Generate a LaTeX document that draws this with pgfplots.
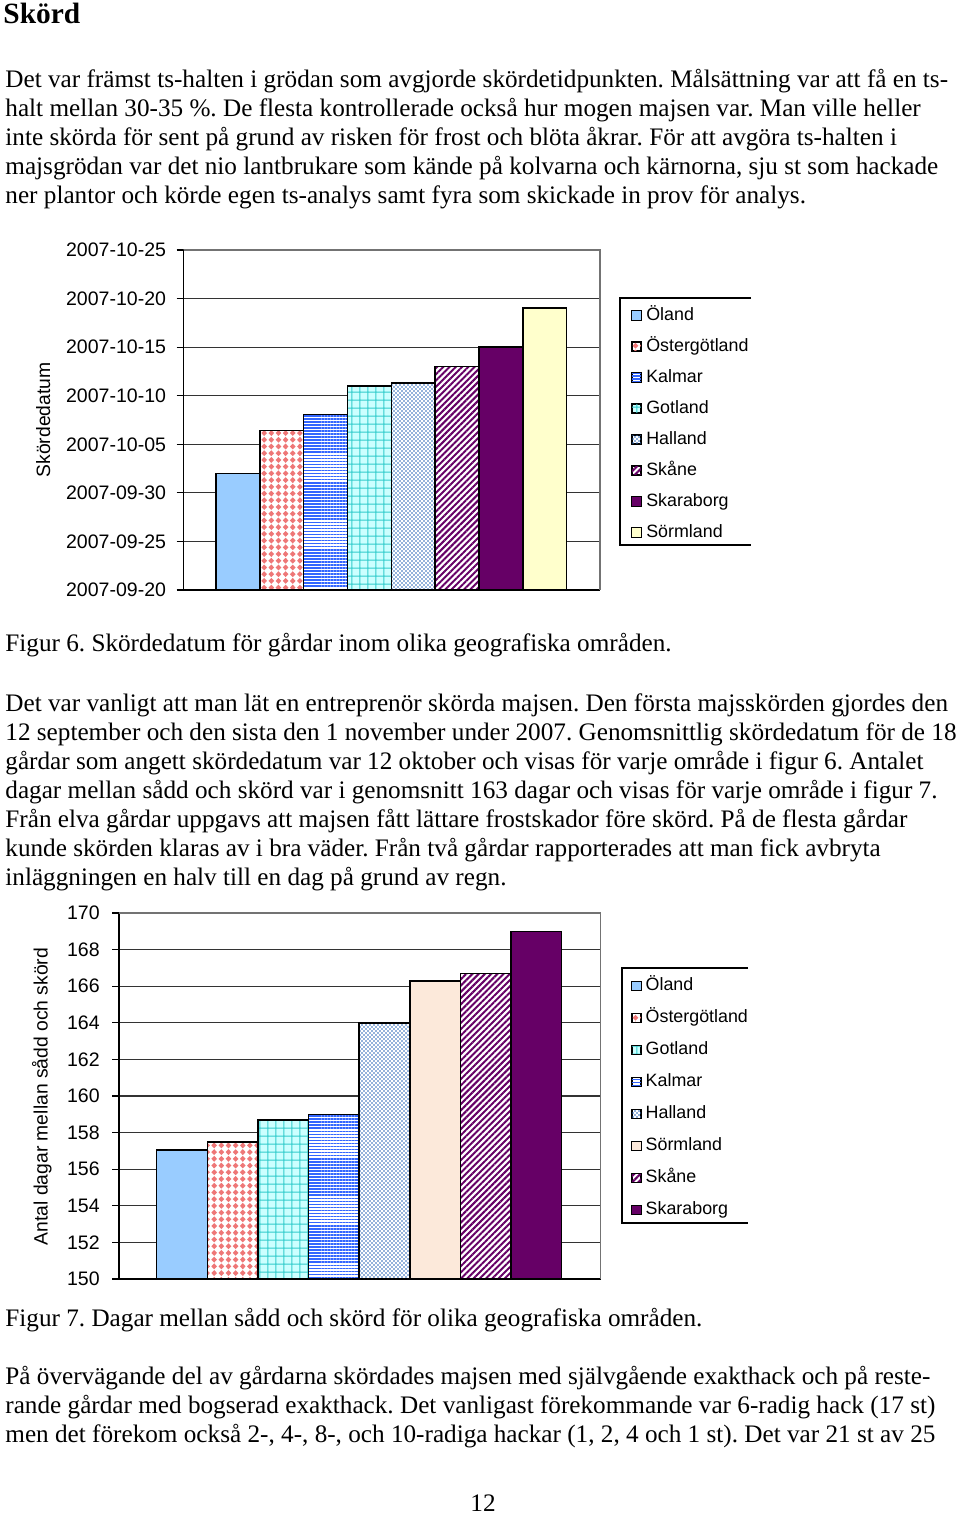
\documentclass[border=0pt]{standalone}
\usepackage{fontspec}
\setmainfont{Liberation Serif}
\setsansfont{Liberation Sans}
\usepackage{pgfplots}
\pgfplotsset{compat=1.18}
\usetikzlibrary{patterns.meta}
\frenchspacing
\def\f{0.47619}
\definecolor{oland}{HTML}{99CCFF}
\definecolor{pinkd}{HTML}{EE7777}
\definecolor{kalmarblue}{HTML}{3366FF}
\definecolor{gotgrid}{HTML}{33CCCC}
\definecolor{gotbg}{HTML}{CCFFFF}
\definecolor{hallblue}{HTML}{2A66B8}
\definecolor{purp}{HTML}{660066}
\definecolor{sorm}{HTML}{FFFFCC}
\definecolor{sormB}{HTML}{FCE9DA}
\tikzdeclarepattern{
  name=diamonds, type=uncolored,
  bounding box={(-1.7pt,-1.6pt) and (1.7pt,1.6pt)},
  tile size={(3.4pt,3.2pt)},
  code={\fill (0pt,-1.4pt) -- (1.35pt,0pt) -- (0pt,1.4pt) -- (-1.35pt,0pt) -- cycle;}
}
\tikzdeclarepattern{
  name=checkdots, type=uncolored,
  bounding box={(0pt,0pt) and (1.9pt,1.9pt)},
  tile size={(1.9pt,1.9pt)},
  code={\fill (0.475pt,0.475pt) circle (0.43pt); \fill (1.425pt,1.425pt) circle (0.43pt);}
}
\pgfplotsset{
  mybar/.style={ybar, bar width=1, bar shift=0pt, draw=black, line width=0.75pt,
    legend image code/.code={\draw[##1, line width=0.5pt] (0pt,-2.2pt) rectangle (4.4pt,2.2pt);}},
  sOland/.style={mybar, fill=oland},
  sOster/.style={mybar, preaction={fill=white}, pattern={diamonds}, pattern color=pinkd},
  sKalmar/.style={mybar, preaction={fill=white}, pattern={Lines[angle=0,distance=1.45pt,line width=0.75pt]}, pattern color=kalmarblue},
  sGotland/.style={mybar, preaction={fill=gotbg}, pattern={Hatch[angle=0,distance=4pt,line width=0.5pt]}, pattern color=gotgrid},
  sHalland/.style={mybar, preaction={fill=white}, pattern={checkdots}, pattern color=hallblue},
  sSkane/.style={mybar, preaction={fill=white}, pattern={Lines[angle=45,distance=2.1pt,line width=0.95pt]}, pattern color=purp},
  sSkara/.style={mybar, fill=purp},
  common/.style={
    scale only axis, anchor=south west,
    axis lines*=left, axis line style={-, black, line width=0.6pt},
    xtick=\empty,
    tick align=outside, major tick length=3.33pt, tick style={black, line width=0.6pt},
    ymajorgrids, major grid style={black!80, line width=0.6pt},
    /pgf/number format/assume math mode=true,
    legend cell align=left,
  },
}
\begin{document}
\begin{tikzpicture}
\path[use as bounding box] (0,0) rectangle (457.14pt,-721.43pt);
\newcommand\tl[2]{\node[anchor=base west, inner sep=0pt, font=\fontsize{12}{14}\selectfont] at ({5*\f pt},{-#1*\f pt}) {#2};}
\node[anchor=base west, inner sep=0pt, font=\fontsize{14}{16}\selectfont\bfseries] at ({3*\f pt},{-24*\f pt}) {Skörd};
\tl{88}{Det var främst ts-halten i grödan som avgjorde skördetidpunkten. Målsättning var att få en ts-}
\tl{117}{halt mellan 30-35 \%. De flesta kontrollerade också hur mogen majsen var. Man ville heller}
\tl{146}{inte skörda för sent på grund av risken för frost och blöta åkrar. För att avgöra ts-halten i}
\tl{175}{majsgrödan var det nio lantbrukare som kände på kolvarna och kärnorna, sju st som hackade}
\tl{204}{ner plantor och körde egen ts-analys samt fyra som skickade in prov för analys.}
\tl{651}{Figur 6. Skördedatum för gårdar inom olika geografiska områden.}
\tl{711}{Det var vanligt att man lät en entreprenör skörda majsen. Den första majsskörden gjordes den}
\tl{740}{12 september och den sista den 1 november under 2007. Genomsnittlig skördedatum för de 18}
\tl{769}{gårdar som angett skördedatum var 12 oktober och visas för varje område i figur 6. Antalet}
\tl{798}{dagar mellan sådd och skörd var i genomsnitt 163 dagar och visas för varje område i figur 7.}
\tl{827}{Från elva gårdar uppgavs att majsen fått lättare frostskador före skörd. På de flesta gårdar}
\tl{856}{kunde skörden klaras av i bra väder. Från två gårdar rapporterades att man fick avbryta}
\tl{885}{inläggningen en halv till en dag på grund av regn.}
\tl{1326}{Figur 7. Dagar mellan sådd och skörd för olika geografiska områden.}
\tl{1384}{På övervägande del av gårdarna skördades majsen med självgående exakthack och på reste-}
\tl{1413}{rande gårdar med bogserad exakthack. Det vanligast förekommande var 6-radig hack (17 st)}
\tl{1442}{men det förekom också 2-, 4-, 8-, och 10-radiga hackar (1, 2, 4 och 1 st). Det var 21 st av 25}
\node[anchor=base, inner sep=0pt, font=\fontsize{12}{14}\selectfont] at ({483*\f pt},{-1511*\f pt}) {12};

% Chart 1: days after 2007-09-20
\begin{axis}[common, name=ax1,
  at={(87.38pt,-280.95pt)}, width=198.33pt, height=161.90pt,
  xmin=-1.24, xmax=8.26, ymin=0, ymax=35,
  ytick={0,5,...,35},
  yticklabels={2007-09-20,2007-09-25,2007-09-30,2007-10-05,2007-10-10,2007-10-15,2007-10-20,2007-10-25},
  yticklabel style={font=\sffamily\fontsize{9.3}{11}\selectfont, inner sep=0pt, xshift=-4.8pt},
  every axis y label/.style={at={(axis description cs:-0.337,0.5)}, rotate=90, anchor=center, font=\sffamily\fontsize{9.2}{11}\selectfont},
  ylabel={Skördedatum},
  legend style={at={(axis description cs:1.0745,0.835)}, anchor=north west, draw=none, fill=none, inner sep=0pt,
    row sep=6.26pt, font=\sffamily\fontsize{8.5}{10}\selectfont,
    nodes={inner sep=0pt, text height=6.5pt, text depth=2pt},
    /tikz/every odd column/.append style={column sep=2.2pt}},
]
\addplot[sOland] coordinates {(0,12.0)};
\addplot[sOster] coordinates {(1,16.4)};
\addplot[sKalmar] coordinates {(2,18.05)};
\addplot[sGotland] coordinates {(3,21.0)};
\addplot[sHalland] coordinates {(4,21.3)};
\addplot[sSkane] coordinates {(5,23.0)};
\addplot[sSkara] coordinates {(6,25.0)};
\addplot[mybar, fill=sorm] coordinates {(7,29.0)};
\legend{Öland,Östergötland,Kalmar,Gotland,Halland,Skåne,Skaraborg,Sörmland}
\end{axis}
\draw[black!55, line width=0.6pt] (ax1.north west) -- (ax1.north east) -- (ax1.south east);
\draw[black, line width=0.5pt] (357.62pt,-141.90pt) -- (295.24pt,-141.90pt) -- (295.24pt,-259.52pt) -- (357.62pt,-259.52pt);

% Chart 2
\begin{axis}[common, name=ax2,
  at={(56.67pt,-609.05pt)}, width=229.29pt, height=174.29pt,
  xmin=-1.245, xmax=8.27, ymin=150, ymax=170,
  ytick={150,152,...,170},
  yticklabel style={font=\sffamily\fontsize{9.3}{11}\selectfont, inner sep=0pt, xshift=-5.7pt},
  every axis y label/.style={at={(axis description cs:-0.160,0.4986)}, rotate=90, anchor=center, font=\sffamily\fontsize{9.2}{11}\selectfont},
  ylabel={Antal dagar mellan sådd och skörd},
  legend style={at={(axis description cs:1.0633,0.826)}, anchor=north west, draw=none, fill=none, inner sep=0pt,
    row sep=6.74pt, font=\sffamily\fontsize{8.5}{10}\selectfont,
    nodes={inner sep=0pt, text height=6.5pt, text depth=2pt},
    /tikz/every odd column/.append style={column sep=1.9pt}},
]
\addplot[sOland] coordinates {(0,157.05)};
\addplot[sOster] coordinates {(1,157.5)};
\addplot[sGotland] coordinates {(2,158.7)};
\addplot[sKalmar] coordinates {(3,159.0)};
\addplot[sHalland] coordinates {(4,164.0)};
\addplot[mybar, fill=sormB] coordinates {(5,166.3)};
\addplot[sSkane] coordinates {(6,166.7)};
\addplot[sSkara] coordinates {(7,169.0)};
\legend{Öland,Östergötland,Gotland,Kalmar,Halland,Sörmland,Skåne,Skaraborg}
\end{axis}
\draw[black!55, line width=0.6pt] (ax2.north west) -- (ax2.north east) -- (ax2.south east);
\draw[black, line width=0.5pt] (356.19pt,-460.95pt) -- (296.19pt,-460.95pt) -- (296.19pt,-582.38pt) -- (356.19pt,-582.38pt);
\end{tikzpicture}
\end{document}
